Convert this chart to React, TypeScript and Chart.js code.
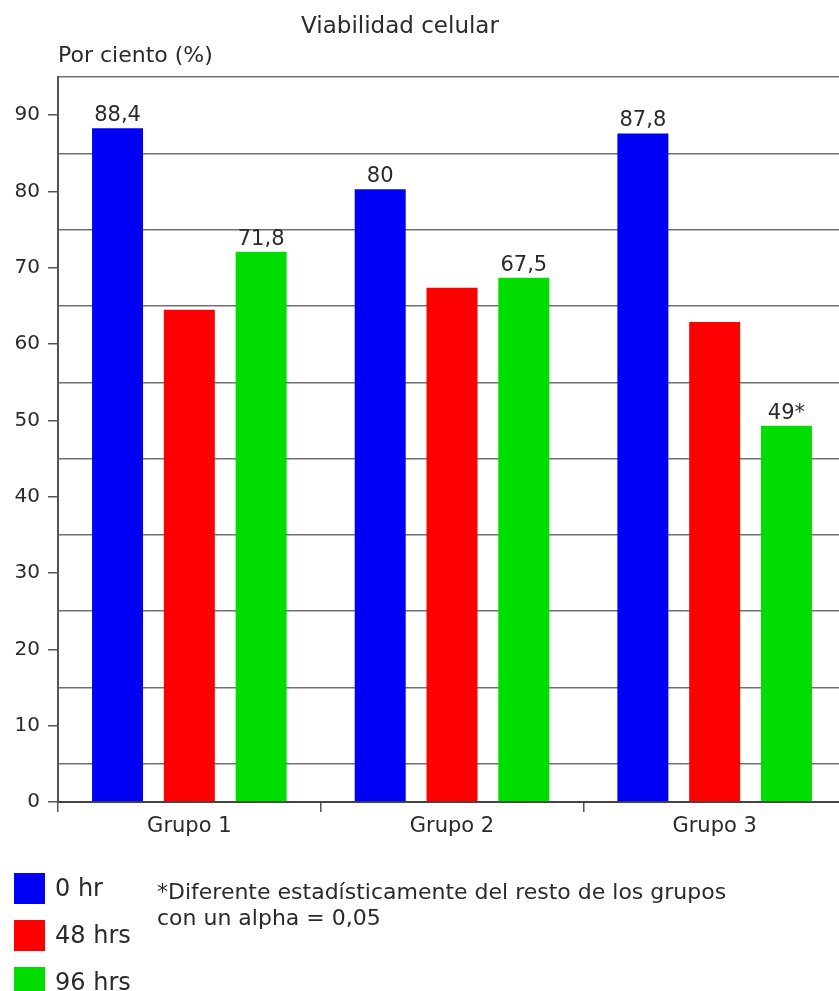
import React, { useEffect, useRef } from "react";
import { Chart, registerables } from "chart.js";

Chart.register(...registerables);

const categories = ["Grupo 1", "Grupo 2", "Grupo 3"];
const seriesNames = ["0 hr", "48 hrs", "96 hrs"];
const values0hr = [88.3, 80.3, 87.6];
const values48hrs = [64.5, 67.4, 62.9];
const values96hrs = [72.1, 68.7, 49.3];
const labels0hr = ["88,4", "80", "87,8"];
const labels48hrs: (string | null)[] = [null, null, null];
const labels96hrs = ["71,8", "67,5", "49*"];
const seriesColors = ["#0000f5", "#ff0000", "#00dd00"];
const yTickValues = [0, 10, 20, 30, 40, 50, 60, 70, 80, 90];
const titleText = "Viabilidad celular";
const yTitleText = "Por ciento (%)";
const footnoteLines = [
  "*Diferente estadísticamente del resto de los grupos",
  "con un alpha = 0,05",
];

const FONT = "'DejaVu Sans', Verdana, sans-serif";
const TEXT = "#2a2a2a";

const overlayPlugin = {
  id: "overlay",
  afterDraw(chart: any) {
    const ctx = chart.ctx as CanvasRenderingContext2D;
    const area = chart.chartArea;
    ctx.save();
    ctx.fillStyle = TEXT;
    // title
    ctx.font = `23px ${FONT}`;
    ctx.textAlign = "center";
    ctx.textBaseline = "alphabetic";
    ctx.fillText(titleText, 400, 33);
    // y axis title
    ctx.font = `22px ${FONT}`;
    ctx.textAlign = "left";
    ctx.fillText(yTitleText, area.left, 62);
    // data labels
    const allLabels = [labels0hr, labels48hrs, labels96hrs];
    ctx.font = `21px ${FONT}`;
    ctx.textAlign = "center";
    chart.data.datasets.forEach((ds: any, i: number) => {
      const meta = chart.getDatasetMeta(i);
      meta.data.forEach((bar: any, j: number) => {
        const t = allLabels[i][j];
        if (t) ctx.fillText(t, bar.x, bar.y - 7);
      });
    });
    // legend
    ctx.textAlign = "left";
    ctx.textBaseline = "middle";
    ctx.font = `24px ${FONT}`;
    chart.data.datasets.forEach((ds: any, i: number) => {
      const y = 873 + i * 47;
      ctx.fillStyle = ds.backgroundColor;
      ctx.fillRect(14, y, 31, 31);
      ctx.fillStyle = TEXT;
      ctx.fillText(ds.label, 55, y + 17);
    });
    // footnote
    ctx.font = `22px ${FONT}`;
    footnoteLines.forEach((line, k) => {
      ctx.fillText(line, 157, 893 + k * 26);
    });
    ctx.restore();
  },
};

export default function App() {
  const ref = useRef<HTMLCanvasElement | null>(null);
  useEffect(() => {
    if (!ref.current) return;
    const series = [values0hr, values48hrs, values96hrs];
    const chart = new Chart(ref.current, {
      type: "bar",
      data: {
        labels: categories,
        datasets: series.map((vals, i) => ({
          label: seriesNames[i],
          data: vals,
          backgroundColor: seriesColors[i],
          borderWidth: 0,
          barPercentage: 0.71,
          categoryPercentage: 0.82,
        })),
      },
      options: {
        animation: false,
        responsive: true,
        maintainAspectRatio: false,
        layout: { padding: { top: 77, left: 0, right: 14, bottom: 149 } },
        plugins: {
          legend: { display: false },
          title: { display: false },
          tooltip: { enabled: false },
        },
        scales: {
          x: {
            afterFit: (s: any) => {
              s.height = 40;
            },
            grid: {
              drawOnChartArea: false,
              drawTicks: true,
              tickLength: 10,
              tickColor: "#555",
              lineWidth: 1.5,
              offset: true,
            },
            border: { display: true, color: "#444", width: 2 },
            ticks: {
              color: TEXT,
              font: { family: FONT, size: 21 },
              padding: 2,
            },
          },
          y: {
            min: 0,
            max: 95,
            afterFit: (s: any) => {
              s.width = 58;
            },
            afterBuildTicks: (s: any) => {
              const t: any[] = [];
              for (let v = 0; v <= 95; v += 5) t.push({ value: v });
              s.ticks = t;
            },
            grid: {
              color: (c: any) =>
                c.tick && c.tick.value % 10 === 5 ? "#707070" : "rgba(0,0,0,0)",
              tickColor: (c: any) =>
                c.tick && c.tick.value % 10 === 0 ? "#555" : "rgba(0,0,0,0)",
              lineWidth: 1.5,
              tickLength: 10,
            },
            border: { display: true, color: "#555", width: 2 },
            ticks: {
              autoSkip: false,
              color: TEXT,
              font: { family: FONT, size: 20 },
              padding: 8,
              callback: (v: any) => (yTickValues.includes(Number(v)) ? String(v) : ""),
            },
          },
        },
      },
      plugins: [overlayPlugin],
    });
    return () => chart.destroy();
  }, []);
  return (
    <div
      style={{
        position: "absolute",
        left: 0,
        top: 0,
        width: 839,
        height: 991,
        overflow: "hidden",
        background: "#fff",
      }}
    >
      <div style={{ position: "relative", width: 860, height: 991 }}>
        <canvas ref={ref} />
      </div>
    </div>
  );
}
